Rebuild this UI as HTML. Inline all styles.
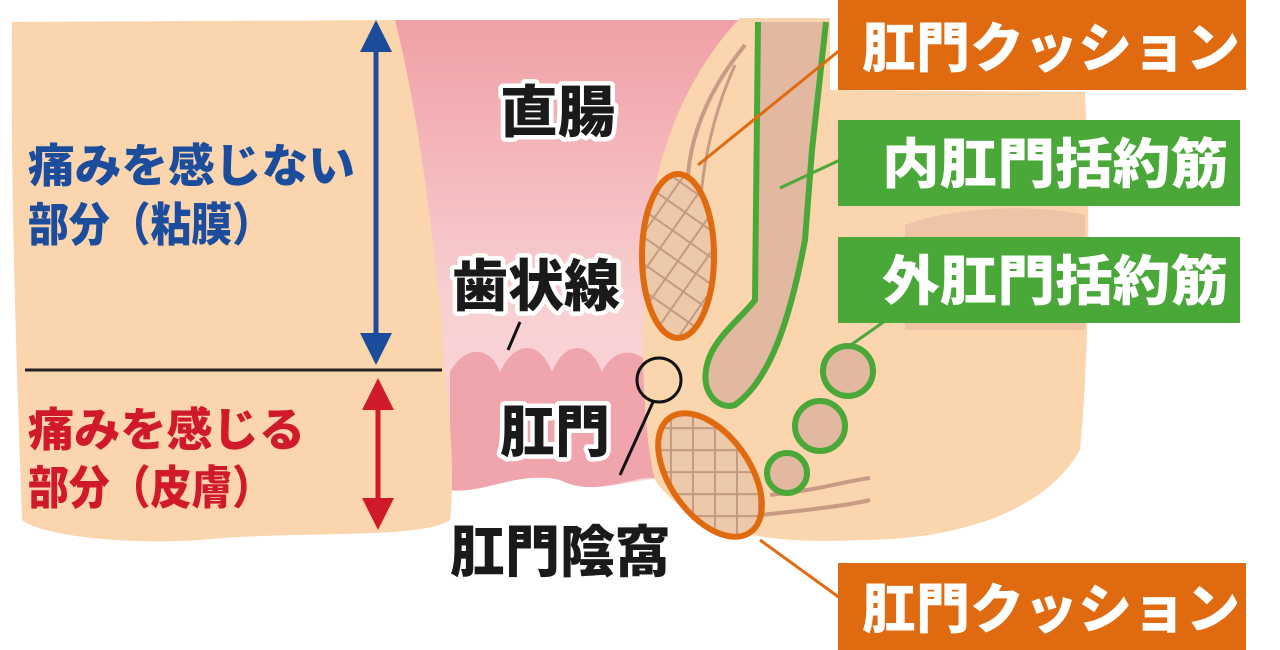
<!DOCTYPE html>
<html><head><meta charset="utf-8"><style>
html,body{margin:0;padding:0;background:#fff;}
svg{display:block}
text{font-family:"Liberation Sans","Noto Sans CJK JP",sans-serif;font-weight:900;}
</style></head><body>
<svg width="1280" height="650" viewBox="0 0 1280 650" xmlns="http://www.w3.org/2000/svg">
<defs>
<linearGradient id="pk" x1="0" y1="0" x2="0" y2="1">
<stop offset="0" stop-color="#f0a0a6"/><stop offset="0.6" stop-color="#f8d0d2"/><stop offset="0.8" stop-color="#f8d4d6"/><stop offset="1" stop-color="#f8d4d6"/>
</linearGradient>
<pattern id="net" width="22" height="22" patternUnits="userSpaceOnUse" patternTransform="rotate(35)">
<rect width="22" height="22" fill="#ecc9a8"/><path d="M0 0H22M0 0V22" stroke="#c49a80" stroke-width="4"/>
</pattern>
</defs>
<path d="M385,20 L760,20 L700,480 C640,470 600,500 560,480 C520,470 480,495 450,490 Z" fill="url(#pk)"/>
<path d="M450,490 L450,372 C465,345 490,345 500,372 C515,340 540,340 552,372 C565,340 590,340 602,372 C615,345 640,348 655,370 L660,480 C640,470 600,500 560,480 C520,470 480,495 450,490 Z" fill="#f0a4ac"/>
<path d="M12,22 L395,20 C420,120 430,220 440,300 L445,370 C450,420 455,470 450,520 C420,540 300,530 200,540 C120,545 40,535 22,520 C18,400 10,200 12,22 Z" fill="#fad5ae"/>
<path d="M740,18 L830,18 L830,90 L1085,92 C1090,200 1090,350 1080,450 C1040,520 940,540 860,540 C760,545 690,530 655,480 C640,420 640,300 650,220 C660,130 700,60 740,18 Z" fill="#fad5ae"/>
<path d="M905,225 C960,205 1040,205 1085,215 L1085,330 L905,330 Z" fill="#e8b9a0" opacity="0.6"/>
<path d="M745,45 C700,100 680,160 690,220" stroke="#c99a84" stroke-width="4" fill="none"/>
<path d="M735,65 C710,120 700,180 700,220" stroke="#c99a84" stroke-width="3" fill="none"/>
<path d="M770,495 C820,490 850,480 870,478" stroke="#c99a84" stroke-width="4" fill="none"/>
<path d="M760,515 C810,510 850,505 870,500" stroke="#c99a84" stroke-width="4" fill="none"/>
<ellipse cx="678" cy="256" rx="36" ry="82" fill="url(#net)"/>
<ellipse cx="710" cy="475" rx="40" ry="70" transform="rotate(-35 710 475)" fill="url(#net)"/>
<ellipse cx="678" cy="256" rx="36" ry="82" fill="none" stroke="#e06a10" stroke-width="6"/>
<ellipse cx="710" cy="475" rx="40" ry="70" transform="rotate(-35 710 475)" fill="none" stroke="#e06a10" stroke-width="6"/>
<path d="M758,22 L755,300 C740,320 710,340 706,370 C702,395 720,410 735,405 C770,380 790,320 805,240 L812,150 L826,22 Z" fill="#e3b8a0"/>
<path d="M758,22 L755,300 C740,320 710,340 706,370 C702,395 720,410 735,405 C770,380 790,320 805,240 L812,150 L826,22" fill="none" stroke="#4aa838" stroke-width="6"/>
<circle cx="848" cy="371" r="25" fill="#e3b8a0" stroke="#4aa838" stroke-width="6"/>
<circle cx="820" cy="426" r="25" fill="#e3b8a0" stroke="#4aa838" stroke-width="6"/>
<circle cx="787" cy="473" r="20" fill="#e3b8a0" stroke="#4aa838" stroke-width="6"/>
<line x1="698" y1="165" x2="840" y2="50" stroke="#e06a10" stroke-width="3"/>
<line x1="760" y1="540" x2="840" y2="598" stroke="#e06a10" stroke-width="3"/>
<line x1="780" y1="188" x2="840" y2="160" stroke="#4aa838" stroke-width="3"/>
<line x1="848" y1="347" x2="912" y2="302" stroke="#4aa838" stroke-width="3"/>
<circle cx="659" cy="380" r="22" fill="none" stroke="#111" stroke-width="3"/>
<line x1="653" y1="402" x2="620" y2="475" stroke="#111" stroke-width="3"/>
<line x1="508" y1="350" x2="520" y2="322" stroke="#111" stroke-width="3"/>
<rect x="838" y="0" width="408" height="90" fill="#e06a10"/>
<rect x="838" y="563" width="408" height="87" fill="#e06a10"/>
<rect x="838" y="120" width="402" height="86" fill="#4aa838"/>
<rect x="838" y="237" width="402" height="86" fill="#4aa838"/>
<g fill="#fff" font-size="54">
<text x="862" y="67" textLength="378" lengthAdjust="spacingAndGlyphs">肛門クッション</text>
<text x="862" y="628" textLength="378" lengthAdjust="spacingAndGlyphs">肛門クッション</text>
<text x="882" y="183" textLength="346" lengthAdjust="spacingAndGlyphs">内肛門括約筋</text>
<text x="882" y="300" textLength="346" lengthAdjust="spacingAndGlyphs">外肛門括約筋</text>
</g>
<line x1="25" y1="370" x2="442" y2="370" stroke="#222" stroke-width="3"/>
<line x1="376" y1="45" x2="376" y2="340" stroke="#1c4c9c" stroke-width="5"/>
<polygon points="376,20 360,52 392,52" fill="#1c4c9c"/>
<polygon points="376,365 360,333 392,333" fill="#1c4c9c"/>
<line x1="378" y1="400" x2="378" y2="505" stroke="#d01a2a" stroke-width="5"/>
<polygon points="378,378 362,410 394,410" fill="#d01a2a"/>
<polygon points="378,530 362,498 394,498" fill="#d01a2a"/>
<g font-size="46">
<text x="28" y="182" fill="#1c4c9c" textLength="327" lengthAdjust="spacingAndGlyphs">痛みを感じない</text>
<text x="28" y="241" fill="#1c4c9c" textLength="245" lengthAdjust="spacingAndGlyphs">部分（粘膜）</text>
<text x="28" y="446" fill="#d01a2a" textLength="277" lengthAdjust="spacingAndGlyphs">痛みを感じる</text>
<text x="28" y="504" fill="#d01a2a" textLength="245" lengthAdjust="spacingAndGlyphs">部分（皮膚）</text>
</g>
<g font-size="56" fill="#1a1a1a" stroke="#fff" stroke-width="9" paint-order="stroke" stroke-linejoin="round">
<text x="500" y="132" textLength="115" lengthAdjust="spacingAndGlyphs">直腸</text>
<text x="452" y="306" textLength="168" lengthAdjust="spacingAndGlyphs">歯状線</text>
<text x="500" y="452" textLength="110" lengthAdjust="spacingAndGlyphs">肛門</text>
<text x="450" y="572" textLength="220" lengthAdjust="spacingAndGlyphs">肛門陰窩</text>
</g>
</svg>
</body></html>
